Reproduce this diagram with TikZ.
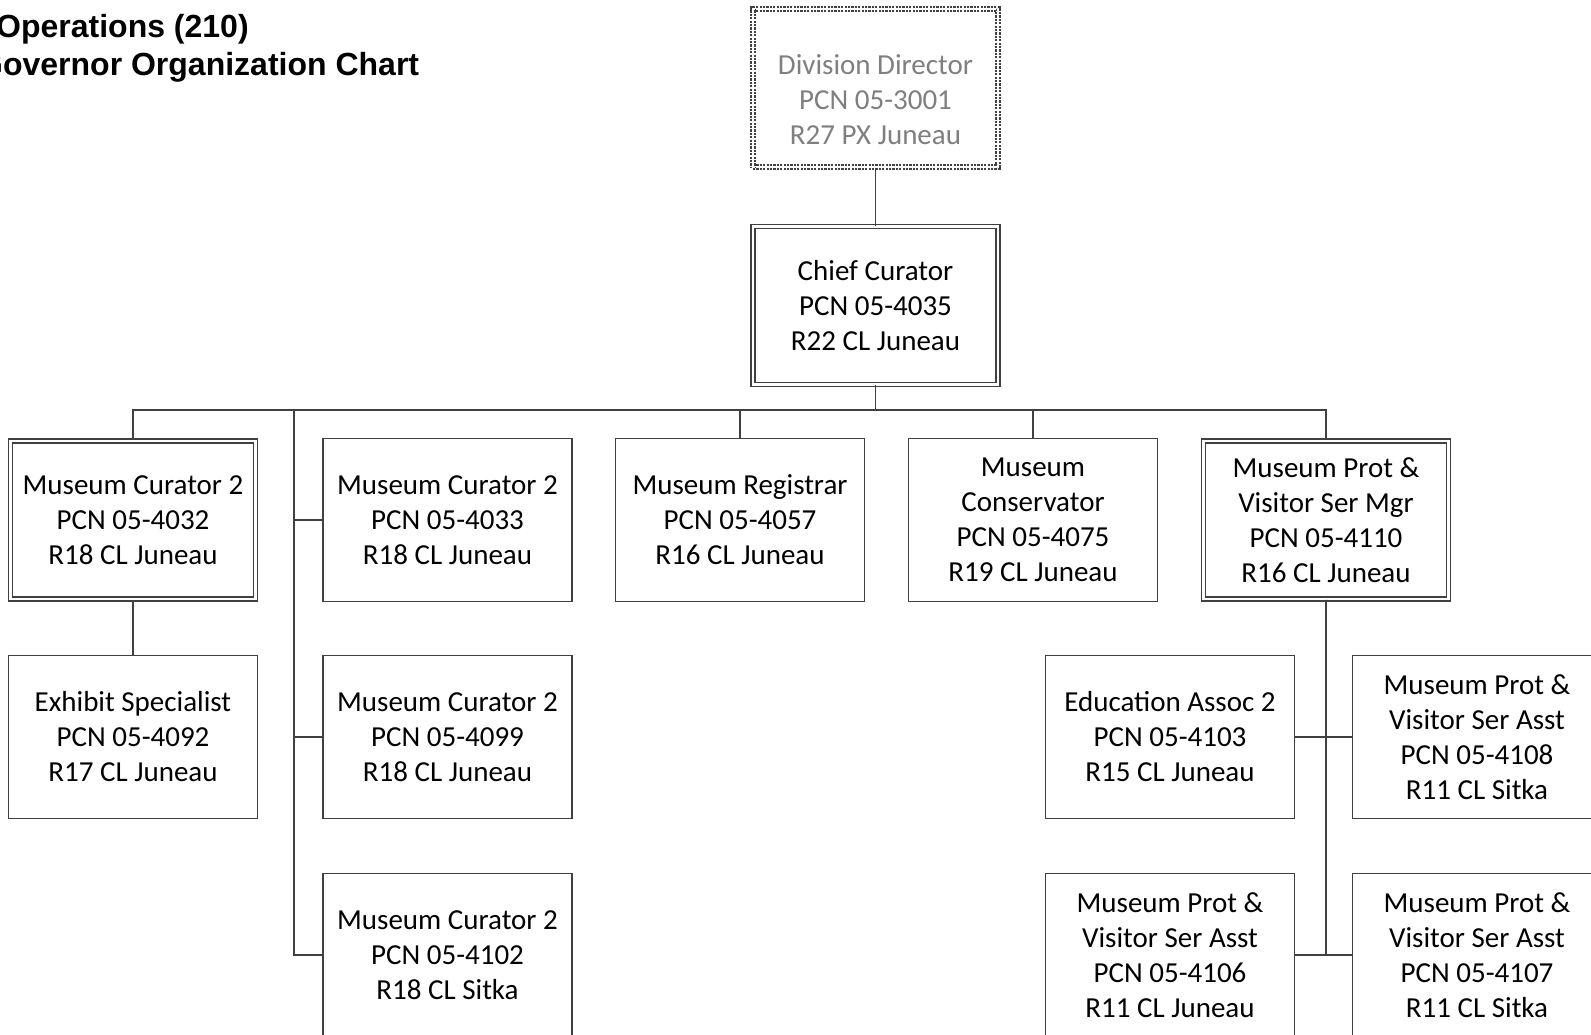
\documentclass[tikz,border=0pt]{standalone}
\usepackage{fontspec}
\setmainfont{Carlito}
\newfontfamily\headfont{Liberation Sans}
\definecolor{ink}{HTML}{404040}
\definecolor{dimtext}{HTML}{7F7F7F}

\begin{document}
\begin{tikzpicture}[x=1pt, y=-1pt,
  post/.style={draw=ink, line width=1.5pt, minimum width=249pt, minimum height=163pt,
               inner sep=0pt, align=center, font=\fontsize{29}{35}\selectfont},
  lead/.style={post, double, double distance=2.6pt, line width=1.3pt,
               minimum width=245pt, minimum height=158pt},
  vacant/.style={lead, dash pattern=on 2.2pt off 1.2pt, text=dimtext},
  link/.style={ink, line width=1.5pt},
  headline/.style={font=\headfont\bfseries\fontsize{32}{38}\selectfont,
                   anchor=base west, inner sep=0pt}]

\useasboundingbox (0,0) rectangle (1591,1035);
\clip (0,0) rectangle (1591,1035);

\def\rowa{520}
\def\rowb{737}
\def\rowc{955}

% ---- heading ----------------------------------------------------------
\node[headline] (headA) at (-4,38) {Operations (210)};
\node[headline] (headB) at (-22,76) {Governor Organization Chart};

% ---- top of the chart -------------------------------------------------
% text sits a little low in the vacant box
\node[vacant] (dd) at (875.5,88) {\rule{0pt}{44pt}Division Director\\PCN 05-3001\\R27 PX Juneau};
\node[lead] (cc) at (875.5,305.5) {Chief Curator\\PCN 05-4035\\R22 CL Juneau};

% ---- row 1 ------------------------------------------------------------
\node[lead] (mc32) at (133,\rowa) {Museum Curator 2\\PCN 05-4032\\R18 CL Juneau};
\node[post] (mc33) at (447.5,\rowa) {Museum Curator 2\\PCN 05-4033\\R18 CL Juneau};
\node[post] (reg) at (740,\rowa) {Museum Registrar\\PCN 05-4057\\R16 CL Juneau};
\node[post] (cons) at (1033,\rowa) {Museum\\Conservator\\PCN 05-4075\\R19 CL Juneau};
\node[lead] (mgr) at (1326,\rowa) {Museum Prot \&\\Visitor Ser Mgr\\PCN 05-4110\\R16 CL Juneau};

% ---- row 2 ------------------------------------------------------------
\node[post] (exh) at (133,\rowb) {Exhibit Specialist\\PCN 05-4092\\R17 CL Juneau};
\node[post] (mc99) at (447.5,\rowb) {Museum Curator 2\\PCN 05-4099\\R18 CL Juneau};
\node[post] (edu) at (1170,\rowb) {Education Assoc 2\\PCN 05-4103\\R15 CL Juneau};
\node[post] (as08) at (1477,\rowb) {Museum Prot \&\\Visitor Ser Asst\\PCN 05-4108\\R11 CL Sitka};

% ---- row 3 ------------------------------------------------------------
\node[post] (mc02) at (447.5,\rowc) {Museum Curator 2\\PCN 05-4102\\R18 CL Sitka};
\node[post] (as06) at (1170,\rowc) {Museum Prot \&\\Visitor Ser Asst\\PCN 05-4106\\R11 CL Juneau};
\node[post] (as07) at (1477,\rowc) {Museum Prot \&\\Visitor Ser Asst\\PCN 05-4107\\R11 CL Sitka};

% ---- lines ------------------------------------------------------------
\coordinate (bus) at (875.5,410);
\coordinate (spine) at (294,410);

\draw[link] (dd) -- (cc);
\draw[link] (cc) -- (bus);
\draw[link] (mc32.north) |- (bus) -| (mgr.north);
\draw[link] (bus) -| (reg.north);
\draw[link] (bus) -| (cons.north);
\draw[link] (mc32) -- (exh);

\foreach \n in {mc33,mc99,mc02}
  \draw[link] (spine) |- (\n.west);

\draw[link] (mgr.south) |- (edu.east);
\draw[link] (mgr.south) |- (as08.west);
\draw[link] (mgr.south) |- (as06.east);
\draw[link] (mgr.south) |- (as07.west);

\end{tikzpicture}
\end{document}
